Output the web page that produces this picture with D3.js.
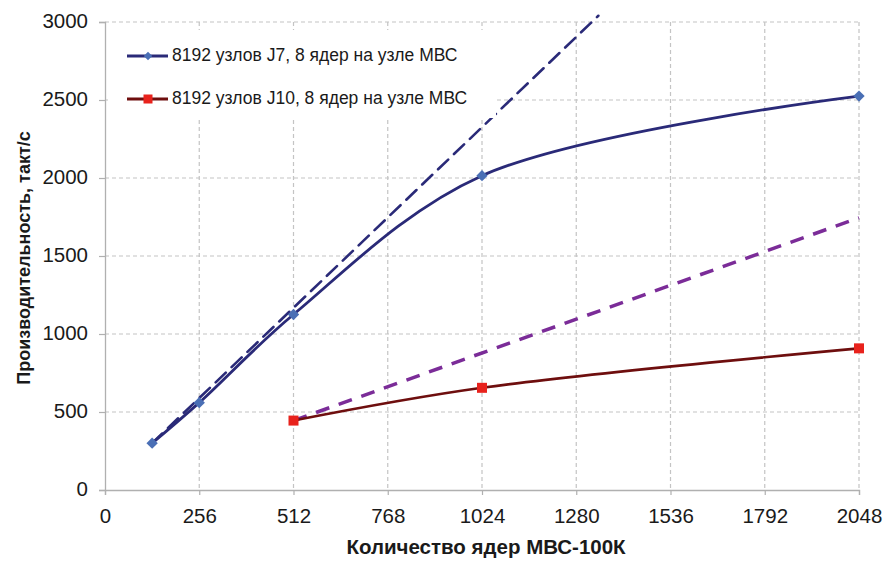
<!DOCTYPE html>
<html><head><meta charset="utf-8">
<script src="https://cdn.jsdelivr.net/npm/d3@7"></script>
<style>
body{margin:0;background:#fff;}
text{font-family:"Liberation Sans",Arial,sans-serif;}
</style></head>
<body><svg id="chart" width="885" height="564"></svg>
<script>
// ---- data ----
const xTicks = [0, 256, 512, 768, 1024, 1280, 1536, 1792, 2048];
const yTicks = [0, 500, 1000, 1500, 2000, 2500, 3000];
const coresJ7 = [128, 256, 512, 1024, 2048];
const perfJ7 = [300, 560, 1125, 2015, 2525];
const coresJ10 = [512, 1024, 2048];
const perfJ10 = [445, 655, 908];
const idealJ7Cores = [128, 1340];
const idealJ7Perf = [300, 3040];
const idealJ10Cores = [512, 2048];
const idealJ10Perf = [445, 1745];
const legendLabels = ["8192 узлов J7, 8 ядер на узле МВС", "8192 узлов J10, 8 ядер на узле МВС"];
const xTitle = "Количество ядер МВС-100К";
const yTitle = "Производительность, такт/с";

const svg = d3.select("#chart");
const L = 105, R = 859, T = 22, B = 490;
const x = d3.scaleLinear().domain([0, 2048]).range([L, R]);
const y = d3.scaleLinear().domain([0, 3000]).range([B, T]);
const gridCol = "#c4c4c4", axisCol = "#b0b0b0";

// grid
svg.append("g").selectAll("line").data(yTicks.filter(d => d > 0)).join("line")
  .attr("x1", L).attr("x2", R).attr("y1", d => y(d)).attr("y2", d => y(d))
  .attr("stroke", gridCol).attr("stroke-width", 1.2).attr("stroke-dasharray", "4,3");
svg.append("g").selectAll("line").data(xTicks.filter(d => d > 0)).join("line")
  .attr("x1", d => x(d)).attr("x2", d => x(d)).attr("y1", T).attr("y2", B)
  .attr("stroke", gridCol).attr("stroke-width", 1.2).attr("stroke-dasharray", "4,3");

// axes
const gx = svg.append("g").attr("transform", `translate(0,${B})`)
  .call(d3.axisBottom(x).tickValues(xTicks).tickSize(5).tickPadding(8).tickFormat(d3.format("d")));
const gy = svg.append("g").attr("transform", `translate(${L},0)`)
  .call(d3.axisLeft(y).tickValues(yTicks).tickSize(6).tickPadding(11).tickFormat(d3.format("d")));
[gx, gy].forEach(g => {
  g.select(".domain").attr("stroke", axisCol).attr("stroke-width", 1.3);
  g.selectAll(".tick line").attr("stroke", axisCol).attr("stroke-width", 1.2);
  g.selectAll(".tick text").attr("font-size", 20.5).attr("fill", "#1a1a1a")
    .attr("font-family", "Liberation Sans, Arial, sans-serif");
});
gx.selectAll(".tick text").attr("dy", null).attr("y", 28).attr("dominant-baseline", "middle");
gy.selectAll(".tick text").attr("dy", null).attr("x", -17).attr("dominant-baseline", "middle");

// titles
svg.append("text").attr("transform", `translate(${(L + R) / 2 + 4},549)`)
  .attr("text-anchor", "middle").attr("dominant-baseline", "middle")
  .attr("font-size", 20.5).attr("font-weight", "bold").attr("fill", "#1a1a1a").text(xTitle);
svg.append("text").attr("transform", `translate(25,258) rotate(-90)`)
  .attr("text-anchor", "middle").attr("dominant-baseline", "middle")
  .attr("font-size", 18).attr("font-weight", "bold").attr("fill", "#1a1a1a").text(yTitle);

// lines
const line = d3.line().x(d => x(d[0])).y(d => y(d[1]));
const lineSmooth = d3.line().x(d => x(d[0])).y(d => y(d[1])).curve(d3.curveCatmullRom.alpha(0.5));
const zip = (a, b) => a.map((v, i) => [v, b[i]]);

const navy = "#2a2a78", markBlue = "#4a6fb5", purple = "#7b2c98", darkRed = "#6e0e0e", markRed = "#e8221c";

svg.append("path").datum(zip(idealJ10Cores, idealJ10Perf)).attr("d", line)
  .attr("fill", "none").attr("stroke", purple).attr("stroke-width", 3.5).attr("stroke-dasharray", "14,10");
svg.append("path").datum(zip(idealJ7Cores, idealJ7Perf)).attr("d", line)
  .attr("fill", "none").attr("stroke", navy).attr("stroke-width", 2.6).attr("stroke-dasharray", "14,8")
  .attr("stroke-linecap", "round");
svg.append("path").datum(zip(coresJ7, perfJ7)).attr("d", lineSmooth)
  .attr("fill", "none").attr("stroke", navy).attr("stroke-width", 2.8);
svg.append("path").datum(zip(coresJ10, perfJ10)).attr("d", lineSmooth)
  .attr("fill", "none").attr("stroke", darkRed).attr("stroke-width", 2.6);

// markers
svg.append("g").selectAll("path").data(zip(coresJ7, perfJ7)).join("path")
  .attr("transform", d => `translate(${x(d[0])},${y(d[1])}) rotate(45)`)
  .attr("d", d3.symbol().type(d3.symbolSquare).size(64)).attr("fill", markBlue);
svg.append("g").selectAll("rect").data(zip(coresJ10, perfJ10)).join("rect")
  .attr("x", d => x(d[0]) - 5).attr("y", d => y(d[1]) - 5).attr("width", 10).attr("height", 10)
  .attr("fill", markRed);

// legend
const lg = svg.append("g");
lg.append("rect").attr("x", 108).attr("y", 30).attr("width", 388).attr("height", 88).attr("fill", "#fff");
const legY = [56, 99];
const legCols = [[navy, markBlue], [darkRed, markRed]];
legY.forEach((ly, i) => {
  lg.append("line").attr("x1", 127).attr("x2", 168).attr("y1", ly).attr("y2", ly)
    .attr("stroke", legCols[i][0]).attr("stroke-width", 2.8);
  if (i === 0) {
    lg.append("path").attr("transform", `translate(148,${ly}) rotate(45)`)
      .attr("d", d3.symbol().type(d3.symbolSquare).size(36)).attr("fill", legCols[i][1]);
  } else {
    lg.append("rect").attr("x", 143.5).attr("y", ly - 4.5).attr("width", 9).attr("height", 9).attr("fill", legCols[i][1]);
  }
  lg.append("text").attr("transform", `translate(172,${ly})`)
    .attr("dominant-baseline", "middle").attr("font-size", 17.5).attr("fill", "#1a1a1a").text(legendLabels[i]);
});
</script></body></html>
